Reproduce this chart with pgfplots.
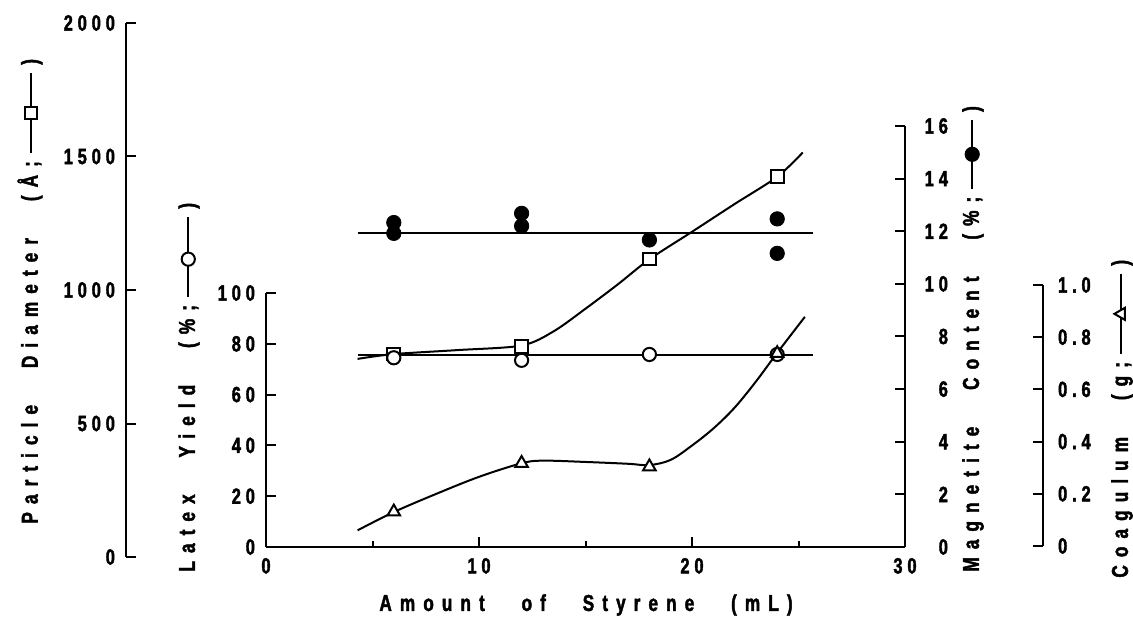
\documentclass[border=0pt]{standalone}
\usepackage{fontspec}
\setmainfont{Liberation Sans}[FakeStretch=0.75, LetterSpace=35, BoldFeatures={FakeBold=1.8}]
\newfontfamily\tickfont{Liberation Sans}[FakeStretch=0.75, LetterSpace=22, BoldFeatures={FakeBold=1.8}]
\usepackage{pgfplots}
\pgfplotsset{compat=1.18}
\newcommand{\lsq}{\tikz[baseline=-0.55ex]{\draw[line width=1pt](0,0)--(3.5em,0);\draw[line width=1pt,fill=white](1.75em,0) +(-3.2pt,-3.2pt) rectangle +(3.2pt,3.2pt);}}
\newcommand{\lci}{\tikz[baseline=-0.55ex]{\draw[line width=1pt](0,0)--(3.5em,0);\draw[line width=1pt,fill=white](1.65em,0) circle (3.3pt);}}
\newcommand{\lfc}{\tikz[baseline=-0.55ex]{\draw[line width=1pt](0,0)--(3em,0);\fill(1.5em,0) circle (3.8pt);}}
\newcommand{\ltr}{\tikz[baseline=-0.55ex]{\draw[line width=1pt](0,0)--(3.5em,0);\draw[line width=1pt,fill=white](1.75em,3.4pt)--(1.75em-3pt,-1.8pt)--(1.75em+3pt,-1.8pt)--cycle;}}
\newcommand{\wg}{\hspace{1.6em}}
\pgfplotsset{
  base/.style={scale only axis, clip=false, anchor=south west,
    axis line style={line width=1pt,black},
    every tick/.style={line width=1pt,black},
    major tick length=5pt, minor tick length=3pt,
    tick align=inside,
    tick label style={font=\fontsize{11}{12}\tickfont\bfseries},
    /pgf/number format/assume math mode=true},
  dl/.style={line width=1pt, black, no markers},
}
\begin{document}
\begin{tikzpicture}
\useasboundingbox (0,0) rectangle (566.5pt,313pt);
% Particle diameter axis
\begin{axis}[base, at={(63pt,34.5pt)}, width=389.5pt, height=267pt,
  xmin=-6.573, xmax=30, ymin=0, ymax=2000,
  axis x line=none, axis y line*=left,
  ytick={0,500,1000,1500,2000}, yticklabels={0,500,1000,1500,2000},
  yticklabel style={anchor=east, xshift=-2pt}]
\addplot[dl, smooth, tension=0.5] coordinates {(4.3,742) (6,760) (9,775) (12,792) (13.5,845) (15,930) (16.5,1020) (18,1115) (20,1218) (22,1322) (24,1424) (25.2,1515)};
\addplot[only marks, mark=square*, mark size=3.2pt, mark options={fill=white, draw=black, line width=1pt}] coordinates {(6,760) (12,788) (18,1116) (24,1424)};
\end{axis}
% Latex yield axis + x axis
\begin{axis}[base, at={(133pt,39.5pt)}, width=319.5pt, height=127pt,
  xmin=0, xmax=30, ymin=0, ymax=100,
  axis x line*=bottom, axis y line*=left,
  xtick={0,10,20,30}, xticklabels={0,10,20,30}, minor xtick={5,15,25},
  xticklabel style={yshift=-2pt},
  ytick={0,20,40,60,80,100}, yticklabels={0,20,40,60,80,100},
  yticklabel style={anchor=east, xshift=-2pt}]
\addplot[dl] coordinates {(4.3,75.5) (25.7,75.5)};
\addplot[only marks, mark=*, mark size=3.3pt, mark options={fill=white, draw=black, line width=1pt}] coordinates {(6,74.5) (12,73.5) (18,75.8) (24,75.8)};
\end{axis}
% Magnetite content axis
\begin{axis}[base, at={(133pt,39.5pt)}, width=319.5pt, height=210.5pt,
  xmin=0, xmax=30, ymin=0, ymax=16,
  axis x line=none, axis y line*=right,
  ytick={0,2,...,16}, yticklabels={0,2,4,6,8,10,12,14,16},
  yticklabel style={anchor=east, xshift=25pt}]
\addplot[dl] coordinates {(4.3,11.92) (25.7,11.92)};
\addplot[only marks, mark=*, mark size=3.6pt, mark options={fill=black}] coordinates {(6,12.33) (6,11.92) (12,12.68) (12,12.2) (18,11.67) (24,12.47) (24,11.16)};
\end{axis}
% Coagulum axis
\begin{axis}[base, at={(133pt,40pt)}, width=388.5pt, height=130.5pt,
  xmin=0, xmax=36.48, ymin=0, ymax=1,
  axis x line=none, axis y line*=right,
  ytick={0,0.2,0.4,0.6,0.8,1}, yticklabels={0,0.2,0.4,0.6,0.8,1.0},
  yticklabel style={anchor=west, xshift=4pt}]
\addplot[dl, smooth, tension=0.55] coordinates {(4.3,0.06) (6,0.13) (8,0.2) (10,0.265) (12,0.317) (13,0.327) (15,0.322) (17,0.315) (18,0.31) (19,0.33) (20,0.385) (21,0.45) (22,0.53) (23,0.63) (24,0.74) (25.3,0.878)};
\addplot[only marks, mark=triangle*, mark size=3.6pt, mark options={fill=white, draw=black, line width=1pt}] coordinates {(6,0.131) (12,0.317) (18,0.304) (24,0.738)};
\end{axis}
% axis titles
\begin{scope}[every node/.style={inner sep=0pt, font=\fontsize{11.5}{13}\bfseries}]
\node[rotate=90, anchor=west] at (15pt,51pt) {Particle\wg Diameter\wg (Å;\hspace{0.3em}\lsq\hspace{0.3em})};
\node[rotate=90, anchor=west] at (94.5pt,27pt) {Latex\wg Yield\wg (\%;\hspace{0.3em}\lci\hspace{0.3em})};
\node[rotate=90, anchor=west] at (486.5pt,27pt) {Magnetite\wg Content\wg (\%;\hspace{0.3em}\lfc\hspace{0.3em})};
\node[rotate=90, anchor=west] at (561pt,24pt) {Coagulum\wg (g;\hspace{0.3em}\ltr\hspace{0.3em})};
\node at (293pt,10.5pt) {Amount\wg of\wg Styrene\wg (mL)};
\end{scope}
\end{tikzpicture}
\end{document}
